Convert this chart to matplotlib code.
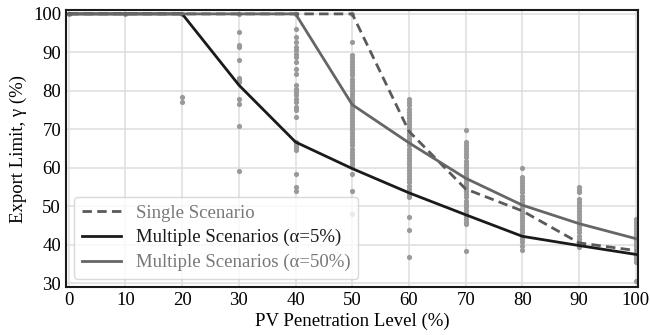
import matplotlib
matplotlib.use('Agg')
import matplotlib.pyplot as plt

# penetration levels and the three limit curves
levels = [0, 10, 20, 30, 40, 50, 60, 70, 80, 90, 100]
single = [100, 100, 100, 100, 100, 100, 69.5, 54.5, 48.8, 40.5, 38.5]
multi_5 = [100, 100, 100, 81.5, 66.7, 59.8, 53.5, 47.8, 42.2, 39.8, 37.5]
multi_50 = [100, 100, 100, 100, 100, 76.4, 66.5, 57.3, 50.3, 45.5, 41.6]

# individual scenario results (grey dots) per level
pts_0 = [100]
pts_10 = [100]
pts_20 = [100, 78.3, 77.2]
pts_30 = [100, 95.4, 91.9, 91.3, 88.0, 83.4, 82.8, 82.2, 78.0, 76.6, 70.8, 59.3]
pts_40 = [100, 96.2, 94.1, 92.8, 91.5, 90.6, 89.7, 88.9, 87.6, 85.6, 84.3,
          81.5, 80.6, 79.7, 78.9, 78.0, 77.1, 75.8, 74.9, 73.2, 66.7, 65.9,
          65.4, 64.6, 58.5, 55.0, 54.1]
pts_50 = [100, 92.8, 89.3, 88.5, 87.8, 87.0, 86.2, 85.5, 84.7, 84.0, 83.2,
          82.4, 81.6, 80.8, 80.0, 79.2, 78.5, 77.7, 76.9, 76.1, 75.3, 74.5,
          73.7, 73.0, 72.2, 71.4, 70.6, 69.8, 69.0, 68.2, 67.4, 66.6, 65.8,
          65.0, 64.2, 63.4, 62.6, 61.8, 61.0, 60.2, 58.5, 54.1, 48.0]
pts_60 = [77.8, 77.0, 76.2, 75.4, 74.6, 73.8, 73.0, 72.2, 71.4, 70.6, 69.8,
          69.0, 68.2, 67.4, 66.6, 65.8, 65.0, 64.2, 63.4, 62.6, 61.8, 61.0,
          60.2, 59.4, 58.6, 57.8, 57.0, 56.2, 55.4, 54.6, 53.8, 53.0, 52.4,
          47.2, 43.9, 36.8]
pts_70 = [69.8, 66.7, 65.9, 65.1, 64.3, 63.5, 62.7, 61.9, 61.1, 60.3, 59.5,
          58.7, 57.9, 57.1, 56.3, 55.5, 54.7, 53.9, 53.1, 52.3, 51.5, 50.7,
          49.9, 49.1, 48.3, 47.5, 46.7, 45.9, 45.5, 38.5]
pts_80 = [60.0, 57.6, 56.8, 56.0, 55.2, 54.4, 53.6, 52.8, 52.0, 51.2, 50.4,
          49.6, 48.8, 48.0, 47.2, 46.4, 45.6, 44.8, 44.0, 43.2, 42.4, 41.6,
          40.8, 39.6, 38.7]
pts_90 = [55.0, 54.3, 53.7, 52.0, 51.2, 50.4, 49.6, 48.8, 48.0, 47.2, 46.4,
          45.6, 44.8, 44.0, 43.2, 42.4, 41.6, 40.8, 40.0, 39.5]
pts_100 = [46.8, 46.0, 45.2, 44.4, 43.6, 42.8, 42.0, 41.2, 40.4, 39.6, 38.8,
           38.0, 37.2, 36.4, 35.5, 30.7]
scenario_pts = [pts_0, pts_10, pts_20, pts_30, pts_40, pts_50,
                pts_60, pts_70, pts_80, pts_90, pts_100]

plt.rcParams['font.family'] = ['Liberation Serif', 'DejaVu Serif']

fig = plt.figure(figsize=(6.5, 3.35), dpi=100)
ax = fig.add_axes([0.1015, 0.143, 0.88, 0.827])

for lvl, pts in zip(levels, scenario_pts):
    ax.scatter([lvl] * len(pts), pts, s=14, color='#999999', linewidths=0, zorder=2)

ax.plot(levels, single, color='#5a5a5a', lw=2, ls=(0, (3.4, 1.9)), zorder=3,
        label='Single Scenario')
ax.plot(levels, multi_5, color='#1a1a1a', lw=2, zorder=3,
        label='Multiple Scenarios (α=5%)')
ax.plot(levels, multi_50, color='#666666', lw=2, zorder=4,
        label='Multiple Scenarios (α=50%)')

ax.set_xlim(-0.5, 100.4)
ax.set_ylim(29, 101)
ax.set_xticks(range(0, 101, 10))
ax.set_yticks(range(30, 101, 10))
ax.tick_params(length=0, labelsize=13.5, pad=3.5)
ax.grid(True, color='#dedede', lw=1.1)
ax.set_axisbelow(True)
for sp in ax.spines.values():
    sp.set_linewidth(1.5)
    sp.set_color('#1a1a1a')

ax.set_xlabel('PV Penetration Level (%)', fontsize=13.5, labelpad=3)
ax.set_ylabel('Export Limit, γ (%)', fontsize=13.5, labelpad=4)

leg = ax.legend(loc='lower left', fontsize=13.5, frameon=True, fancybox=True,
                borderaxespad=0.45, labelspacing=0.4, handlelength=2.1)
leg.get_frame().set_edgecolor('#d0d0d0')
leg.get_frame().set_linewidth(1)
for txt, c in zip(leg.get_texts(), ['#777777', '#1a1a1a', '#777777']):
    txt.set_color(c)

fig.savefig('out.png', dpi=100)
